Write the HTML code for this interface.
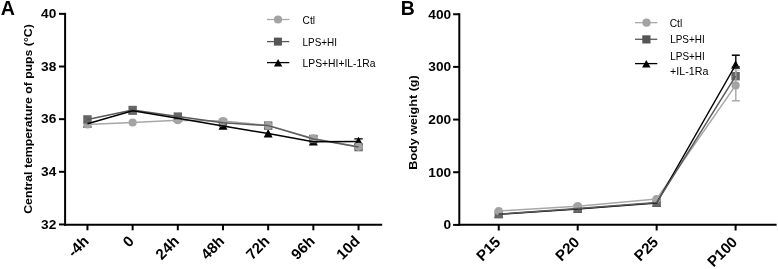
<!DOCTYPE html>
<html><head><meta charset="utf-8"><title>Figure</title>
<style>
html,body{margin:0;padding:0;background:#fff;}
body{width:778px;height:269px;overflow:hidden;}
svg{display:block;font-family:"Liberation Sans", sans-serif;filter:blur(0.3px);}
</style></head>
<body>
<svg width="778" height="269" viewBox="0 0 778 269" font-family='"Liberation Sans", sans-serif' fill="#000">
<rect width="778" height="269" fill="#fff"/>
<text x="0.7" y="15.1" font-size="19.6" font-weight="bold">A</text>
<text x="400.8" y="15.3" font-size="19.4" font-weight="bold">B</text>
<line x1="65.1" y1="12.86" x2="65.1" y2="225.65" stroke="#000" stroke-width="2"/>
<line x1="64.1" y1="224.65" x2="382.2" y2="224.65" stroke="#000" stroke-width="2"/>
<line x1="59.0" y1="13.86" x2="65.1" y2="13.86" stroke="#000" stroke-width="2"/>
<text x="56.3" y="18.16" font-size="13.7" font-weight="bold" text-anchor="end">40</text>
<line x1="59.0" y1="66.51" x2="65.1" y2="66.51" stroke="#000" stroke-width="2"/>
<text x="56.3" y="70.81" font-size="13.7" font-weight="bold" text-anchor="end">38</text>
<line x1="59.0" y1="119.16" x2="65.1" y2="119.16" stroke="#000" stroke-width="2"/>
<text x="56.3" y="123.46" font-size="13.7" font-weight="bold" text-anchor="end">36</text>
<line x1="59.0" y1="171.81" x2="65.1" y2="171.81" stroke="#000" stroke-width="2"/>
<text x="56.3" y="176.11" font-size="13.7" font-weight="bold" text-anchor="end">34</text>
<line x1="59.0" y1="224.46" x2="65.1" y2="224.46" stroke="#000" stroke-width="2"/>
<text x="56.3" y="228.76" font-size="13.7" font-weight="bold" text-anchor="end">32</text>
<line x1="87.45" y1="224.65" x2="87.45" y2="230.3" stroke="#000" stroke-width="2"/>
<text transform="translate(89.75,242.10) rotate(-45)" font-size="15.0" font-weight="bold" text-anchor="end">-4h</text>
<line x1="132.63" y1="224.65" x2="132.63" y2="230.3" stroke="#000" stroke-width="2"/>
<text transform="translate(134.93,242.10) rotate(-45)" font-size="15.0" font-weight="bold" text-anchor="end">0</text>
<line x1="177.81" y1="224.65" x2="177.81" y2="230.3" stroke="#000" stroke-width="2"/>
<text transform="translate(180.11,242.10) rotate(-45)" font-size="15.0" font-weight="bold" text-anchor="end">24h</text>
<line x1="222.99" y1="224.65" x2="222.99" y2="230.3" stroke="#000" stroke-width="2"/>
<text transform="translate(225.29,242.10) rotate(-45)" font-size="15.0" font-weight="bold" text-anchor="end">48h</text>
<line x1="268.17" y1="224.65" x2="268.17" y2="230.3" stroke="#000" stroke-width="2"/>
<text transform="translate(270.47,242.10) rotate(-45)" font-size="15.0" font-weight="bold" text-anchor="end">72h</text>
<line x1="313.35" y1="224.65" x2="313.35" y2="230.3" stroke="#000" stroke-width="2"/>
<text transform="translate(315.65,242.10) rotate(-45)" font-size="15.0" font-weight="bold" text-anchor="end">96h</text>
<line x1="358.53" y1="224.65" x2="358.53" y2="230.3" stroke="#000" stroke-width="2"/>
<text transform="translate(360.83,242.10) rotate(-45)" font-size="15.0" font-weight="bold" text-anchor="end">10d</text>
<text transform="translate(32,119.0) rotate(-90)" font-size="11.4" font-weight="bold" text-anchor="middle" textLength="189.5" lengthAdjust="spacingAndGlyphs">Central temperature of pups (°C)</text>
<polygon points="87.45,119.12 91.95,127.62 82.95,127.62" fill="#000000"/>
<circle cx="87.45" cy="124.40" r="4.1" fill="#a3a3a3"/>
<rect x="83.25" y="115.20" width="8.4" height="8.4" fill="#666666"/>
<polygon points="132.63,106.12 137.13,114.62 128.13,114.62" fill="#000000"/>
<circle cx="132.63" cy="122.50" r="4.1" fill="#a3a3a3"/>
<rect x="128.43" y="105.80" width="8.4" height="8.4" fill="#666666"/>
<polygon points="177.81,113.53 182.31,122.03 173.31,122.03" fill="#000000"/>
<circle cx="177.81" cy="120.20" r="4.1" fill="#a3a3a3"/>
<rect x="173.61" y="112.40" width="8.4" height="8.4" fill="#666666"/>
<polygon points="222.99,121.33 227.49,129.82 218.49,129.82" fill="#000000"/>
<rect x="218.79" y="118.60" width="8.4" height="8.4" fill="#666666"/>
<circle cx="222.99" cy="121.00" r="4.1" fill="#a3a3a3"/>
<polygon points="268.17,128.92 272.67,137.42 263.67,137.42" fill="#000000"/>
<rect x="263.97" y="121.40" width="8.4" height="8.4" fill="#666666"/>
<circle cx="268.17" cy="125.40" r="4.1" fill="#a3a3a3"/>
<polygon points="313.35,137.12 317.85,145.62 308.85,145.62" fill="#000000"/>
<rect x="309.15" y="134.80" width="8.4" height="8.4" fill="#666666"/>
<circle cx="313.35" cy="138.40" r="4.1" fill="#a3a3a3"/>
<polygon points="358.53,136.72 363.03,145.22 354.03,145.22" fill="#000000"/>
<rect x="354.33" y="142.90" width="8.4" height="8.4" fill="#666666"/>
<circle cx="358.53" cy="146.80" r="4.1" fill="#a3a3a3"/>
<line x1="354.33" y1="138.9" x2="362.73" y2="138.9" stroke="#000" stroke-width="1.3"/>
<polyline points="87.45,124.40 132.63,122.50 177.81,120.20 222.99,121.00 268.17,125.40 313.35,138.40 358.53,146.80" fill="none" stroke="#a8a8a8" stroke-width="1.5" stroke-linejoin="round"/>
<polyline points="87.45,119.40 132.63,110.00 177.81,116.60 222.99,122.80 268.17,125.60 313.35,139.00 358.53,147.10" fill="none" stroke="#5a5a5a" stroke-width="1.5" stroke-linejoin="round"/>
<polyline points="87.45,123.80 132.63,110.80 177.81,118.20 222.99,126.00 268.17,133.60 313.35,141.80 358.53,141.40" fill="none" stroke="#000000" stroke-width="1.5" stroke-linejoin="round"/>
<line x1="267" y1="19.5" x2="289.3" y2="19.5" stroke="#a8a8a8" stroke-width="1.3"/><circle cx="278.00" cy="19.50" r="4.1" fill="#a3a3a3"/>
<line x1="267" y1="41.6" x2="289.3" y2="41.6" stroke="#5a5a5a" stroke-width="1.3"/><rect x="273.90" y="37.60" width="8.0" height="8.0" fill="#555555"/>
<line x1="267" y1="62.6" x2="289.3" y2="62.6" stroke="#000000" stroke-width="1.3"/><polygon points="278.10,58.90 282.30,66.40 273.90,66.40" fill="#000000"/>
<text x="302.6" y="23.5" font-size="10.2">Ctl</text>
<text x="302.5" y="45.7" font-size="10.2" textLength="34.5" lengthAdjust="spacingAndGlyphs">LPS+HI</text>
<text x="302.5" y="67.2" font-size="10.2" textLength="73" lengthAdjust="spacingAndGlyphs">LPS+HI+IL-1Ra</text>
<line x1="459.3" y1="13.24" x2="459.3" y2="225.8" stroke="#000" stroke-width="2"/>
<line x1="458.3" y1="224.8" x2="776.6" y2="224.8" stroke="#000" stroke-width="2"/>
<line x1="453.1" y1="14.24" x2="459.3" y2="14.24" stroke="#000" stroke-width="2"/>
<text x="451.2" y="18.54" font-size="13.7" font-weight="bold" text-anchor="end">400</text>
<line x1="453.1" y1="66.90" x2="459.3" y2="66.90" stroke="#000" stroke-width="2"/>
<text x="451.2" y="71.20" font-size="13.7" font-weight="bold" text-anchor="end">300</text>
<line x1="453.1" y1="119.57" x2="459.3" y2="119.57" stroke="#000" stroke-width="2"/>
<text x="451.2" y="123.87" font-size="13.7" font-weight="bold" text-anchor="end">200</text>
<line x1="453.1" y1="172.23" x2="459.3" y2="172.23" stroke="#000" stroke-width="2"/>
<text x="451.2" y="176.53" font-size="13.7" font-weight="bold" text-anchor="end">100</text>
<line x1="453.1" y1="224.90" x2="459.3" y2="224.90" stroke="#000" stroke-width="2"/>
<text x="451.2" y="229.20" font-size="13.7" font-weight="bold" text-anchor="end">0</text>
<line x1="498.75" y1="224.8" x2="498.75" y2="230.5" stroke="#000" stroke-width="2"/>
<text transform="translate(501.35,243.0) rotate(-45)" font-size="15.0" font-weight="bold" text-anchor="end">P15</text>
<line x1="577.7" y1="224.8" x2="577.7" y2="230.5" stroke="#000" stroke-width="2"/>
<text transform="translate(580.30,243.0) rotate(-45)" font-size="15.0" font-weight="bold" text-anchor="end">P20</text>
<line x1="656.65" y1="224.8" x2="656.65" y2="230.5" stroke="#000" stroke-width="2"/>
<text transform="translate(659.25,243.0) rotate(-45)" font-size="15.0" font-weight="bold" text-anchor="end">P25</text>
<line x1="735.6" y1="224.8" x2="735.6" y2="230.5" stroke="#000" stroke-width="2"/>
<text transform="translate(738.20,243.0) rotate(-45)" font-size="15.0" font-weight="bold" text-anchor="end">P100</text>
<text transform="translate(417.2,122.5) rotate(-90)" font-size="11.4" font-weight="bold" text-anchor="middle" textLength="94.4" lengthAdjust="spacingAndGlyphs">Body weight (g)</text>
<line x1="735.8000000000001" y1="65.00" x2="735.8000000000001" y2="55.2" stroke="#000" stroke-width="1.4"/>
<line x1="731.8000000000001" y1="55.2" x2="739.8000000000001" y2="55.2" stroke="#000" stroke-width="1.5"/>
<polygon points="498.75,209.52 503.25,218.02 494.25,218.02" fill="#000000"/>
<polygon points="577.70,204.32 582.20,212.82 573.20,212.82" fill="#000000"/>
<polygon points="656.65,198.32 661.15,206.82 652.15,206.82" fill="#000000"/>
<polygon points="735.60,60.33 740.10,68.83 731.10,68.83" fill="#000000"/>
<line x1="735.8000000000001" y1="76.20" x2="735.8000000000001" y2="66.8" stroke="#333" stroke-width="1.4"/>
<line x1="731.8000000000001" y1="66.8" x2="739.8000000000001" y2="66.8" stroke="#222" stroke-width="1.4"/>
<rect x="494.55" y="210.00" width="8.4" height="8.4" fill="#666666"/>
<rect x="573.50" y="204.40" width="8.4" height="8.4" fill="#666666"/>
<rect x="652.45" y="198.40" width="8.4" height="8.4" fill="#666666"/>
<rect x="731.40" y="72.00" width="8.4" height="8.4" fill="#666666"/>
<line x1="735.8000000000001" y1="70.0" x2="735.8000000000001" y2="100.8" stroke="#a8a8a8" stroke-width="1.4"/>
<line x1="731.8000000000001" y1="100.8" x2="739.8000000000001" y2="100.8" stroke="#a8a8a8" stroke-width="1.5"/>
<line x1="731.8000000000001" y1="70.0" x2="739.8000000000001" y2="70.0" stroke="#d0d0d0" stroke-width="1.4"/>
<circle cx="498.75" cy="211.00" r="4.1" fill="#a3a3a3"/>
<circle cx="577.70" cy="206.20" r="4.1" fill="#a3a3a3"/>
<circle cx="656.65" cy="199.00" r="4.1" fill="#a3a3a3"/>
<circle cx="735.60" cy="85.40" r="4.1" fill="#a3a3a3"/>
<polyline points="498.75,211.00 577.70,206.20 656.65,199.00 735.60,85.40" fill="none" stroke="#a8a8a8" stroke-width="1.5" stroke-linejoin="round"/>
<polyline points="498.75,214.20 577.70,209.00 656.65,203.00 735.60,65.00" fill="none" stroke="#000000" stroke-width="1.5" stroke-linejoin="round"/>
<polyline points="498.75,214.20 577.70,208.60 656.65,202.60 735.60,76.20" fill="none" stroke="#5a5a5a" stroke-width="1.5" stroke-linejoin="round"/>
<line x1="635" y1="22.7" x2="657.3" y2="22.7" stroke="#a8a8a8" stroke-width="1.3"/><circle cx="646.50" cy="22.70" r="4.1" fill="#a3a3a3"/>
<line x1="635" y1="39.3" x2="657.3" y2="39.3" stroke="#5a5a5a" stroke-width="1.3"/><rect x="642.30" y="35.30" width="8.2" height="8.2" fill="#555555"/>
<line x1="635" y1="63.6" x2="657.3" y2="63.6" stroke="#000000" stroke-width="1.3"/><polygon points="646.30,60.10 650.50,67.40 642.10,67.40" fill="#000000"/>
<text x="669.7" y="26.9" font-size="10.2">Ctl</text>
<text x="670.2" y="43.0" font-size="10.2" textLength="34.5" lengthAdjust="spacingAndGlyphs">LPS+HI</text>
<text x="670.3" y="60.0" font-size="10.2" textLength="34.5" lengthAdjust="spacingAndGlyphs">LPS+HI</text>
<text x="670.0" y="74.85" font-size="10.2" textLength="38.4" lengthAdjust="spacingAndGlyphs">+IL-1Ra</text>
</svg>
</body></html>
